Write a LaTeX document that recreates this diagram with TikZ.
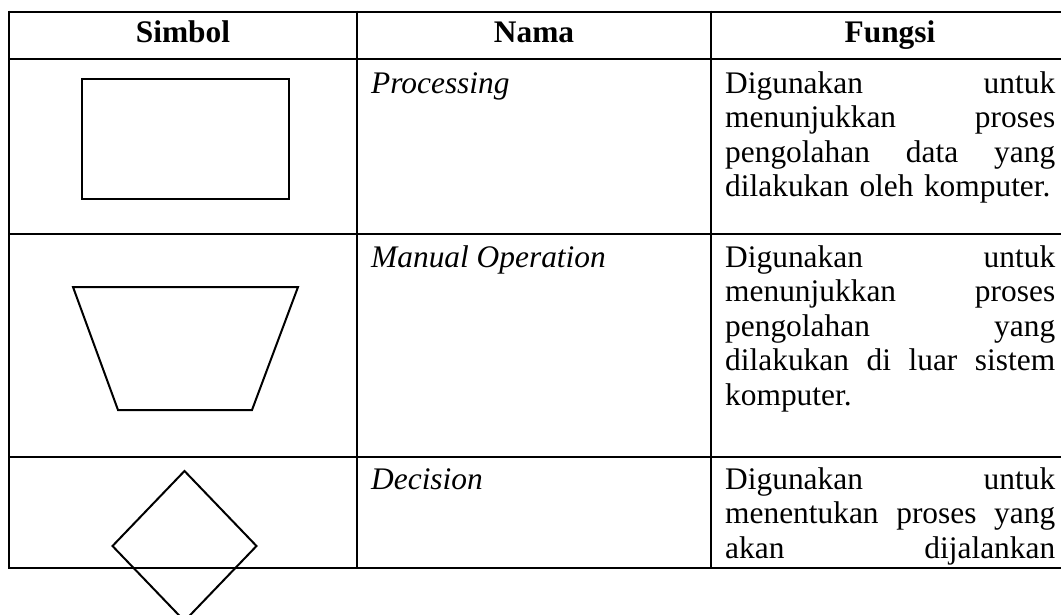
\documentclass[tikz,border=0pt]{standalone}
\usepackage{fontspec}
\setmainfont{Liberation Serif}
\begin{document}
\begin{tikzpicture}[x=1pt,y=-1pt,
  grid/.style={line width=2.7pt},
  sym/.style={line width=2pt, line join=miter},
  txt/.style={inner sep=0pt, font=\fontsize{31.4}{34.5}\selectfont},
  head/.style={txt, anchor=base, font=\fontsize{31.4}{34.5}\selectfont\bfseries},
  namecell/.style={txt, anchor=north west, align=left},
  funcell/.style={txt, anchor=north west, align=left, text width=330pt}]
\useasboundingbox (0,0) rectangle (1061,615);
\begin{scope}
\clip (0,0) rectangle (1061,615);
% table grid
\draw[grid] (9,12) -- (1069,12);
\draw[grid] (9,59) -- (1069,59);
\draw[grid] (9,234) -- (1069,234);
\draw[grid] (9,457) -- (1069,457);
\draw[grid] (9,568) -- (1069,568);
\draw[grid] (9,10.65) -- (9,569.35);
\draw[grid] (357,10.65) -- (357,569.35);
\draw[grid] (711,10.65) -- (711,569.35);
\draw[grid] (1069,10.65) -- (1069,569.35);
% headers
\node[head] (hsimbol) at (183,43) {Simbol};
\node[head] (hnama) at (534,43) {Nama};
\node[head] (hfungsi) at (890,43) {Fungsi};
% symbols
\draw[sym] (81.5,79) rectangle (289,199);
\draw[sym] (73,287) -- (298,287) -- (252,410) -- (118,410) -- cycle;
\draw[sym] (184.5,471) -- (256.5,546) -- (184.5,621) -- (112.5,546) -- cycle;
% names
\node[namecell] (n1) at (371,68.85) {\strut\textit{Processing}};
\node[namecell] (n2) at (371,242.85) {\strut\textit{Manual Operation}};
\node[namecell] (n3) at (371,464.85) {\strut\textit{Decision}};
% functions
\node[funcell] (f1) at (725,68.85) {\strut Digunakan\hfill untuk\\
menunjukkan\hfill proses\\
pengolahan\hfill data\hfill yang\\
dilakukan oleh komputer.};
\node[funcell] (f2) at (725,242.85) {\strut Digunakan\hfill untuk\\
menunjukkan\hfill proses\\
pengolahan\hfill yang\\
dilakukan\hfill di\hfill luar\hfill sistem\\
komputer.};
\node[funcell] (f3) at (725,464.85) {\strut Digunakan\hfill untuk\\
menentukan\hfill proses\hfill yang\\
akan\hfill dijalankan};
\end{scope}
\end{tikzpicture}
\end{document}
